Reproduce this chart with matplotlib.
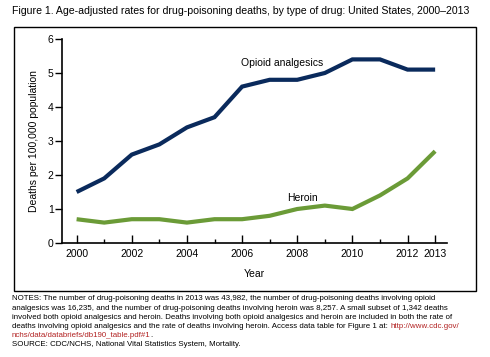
import matplotlib
matplotlib.use("Agg")
import matplotlib.pyplot as plt
from matplotlib.patches import Rectangle
from matplotlib.ticker import MultipleLocator

years = [2000, 2001, 2002, 2003, 2004, 2005, 2006, 2007, 2008, 2009, 2010, 2011, 2012, 2013]
opioid = [1.5, 1.9, 2.6, 2.9, 3.4, 3.7, 4.6, 4.8, 4.8, 5.0, 5.4, 5.4, 5.1, 5.1]
heroin = [0.7, 0.6, 0.7, 0.7, 0.6, 0.7, 0.7, 0.8, 1.0, 1.1, 1.0, 1.4, 1.9, 2.7]
xtick_pos = [2000, 2002, 2004, 2006, 2008, 2010, 2012, 2013]
xtick_labels = ["2000", "2002", "2004", "2006", "2008", "2010", "2012", "2013"]

plt.rcParams['font.family'] = ['Liberation Sans', 'DejaVu Sans']

W, H = 490, 357


def fx(px):
    return px / W


def fy(py):
    return 1 - py / H


navy = '#0a2a5c'
green = '#6b9b37'
red = '#b22222'

fig = plt.figure(figsize=(W / 100, H / 100), dpi=100)
fig.patches.append(Rectangle((fx(14), fy(291)), fx(476) - fx(14), fy(27) - fy(291),
                             transform=fig.transFigure, fill=False, ec='black', lw=1.0))
fig.text(fx(12), fy(11), "Figure 1. Age-adjusted rates for drug-poisoning deaths, by type of drug: United States, 2000\u20132013",
         fontsize=7.6, va='center', ha='left')

ax = fig.add_axes([fx(62), fy(243), fx(447) - fx(62), fy(39) - fy(243)])
ax.plot(years, opioid, color=navy, lw=3.0, solid_joinstyle='miter', solid_capstyle='butt')
ax.plot(years, heroin, color=green, lw=3.0, solid_joinstyle='miter', solid_capstyle='butt')
ax.set_xlim(1999.47, 2013.43)
ax.set_ylim(0, 6)
for s in ['top', 'right']:
    ax.spines[s].set_visible(False)
ax.spines['left'].set_linewidth(1.2)
ax.spines['bottom'].set_linewidth(1.2)
ax.yaxis.set_major_locator(MultipleLocator(1))
ax.tick_params(axis='y', direction='out', length=5, width=1, labelsize=7.5, pad=1)
ax.set_xticks(xtick_pos)
ax.set_xticklabels(xtick_labels)
ax.set_xticks([y for y in years if y not in xtick_pos], minor=True)
ax.tick_params(axis='x', which='major', direction='in', length=6, width=1, labelsize=7.5, pad=4.5)
ax.tick_params(axis='x', which='minor', direction='in', length=3, width=1)
ax.set_ylabel("Deaths per 100,000 population", fontsize=7.5, labelpad=6)
ax.set_xlabel("Year", fontsize=7.5, labelpad=7)
ax.text(2007.45, 5.3, "Opioid analgesics", fontsize=7.5, ha='center', va='center')
ax.text(2008.2, 1.32, "Heroin", fontsize=7.5, ha='center', va='center')

fs = 5.7
lines_y = [300.5, 310, 319, 328, 337, 346]
notes = [
    "NOTES: The number of drug-poisoning deaths in 2013 was 43,982, the number of drug-poisoning deaths involving opioid",
    "analgesics was 16,235, and the number of drug-poisoning deaths involving heroin was 8,257. A small subset of 1,342 deaths",
    "involved both opioid analgesics and heroin. Deaths involving both opioid analgesics and heroin are included in both the rate of",
]
for ln, yy in zip(notes, lines_y[:3]):
    fig.text(fx(12), fy(yy), ln, fontsize=fs, va='baseline')
t4 = fig.text(fx(12), fy(lines_y[3]), "deaths involving opioid analgesics and the rate of deaths involving heroin. Access data table for Figure 1 at: ",
              fontsize=fs, va='baseline')
ax.annotate("http://www.cdc.gov/", xy=(1, 0), xycoords=t4, va='bottom', ha='left',
            fontsize=fs, color=red, annotation_clip=False)
t5 = fig.text(fx(12), fy(lines_y[4]), "nchs/data/databriefs/db190_table.pdf#1", fontsize=fs, color=red, va='baseline')
ax.annotate(".", xy=(1, 0), xycoords=t5, va='bottom', ha='left', fontsize=fs, annotation_clip=False)
fig.text(fx(12), fy(lines_y[5]), "SOURCE: CDC/NCHS, National Vital Statistics System, Mortality.", fontsize=fs, va='baseline')

fig.savefig("out.png", dpi=100)
